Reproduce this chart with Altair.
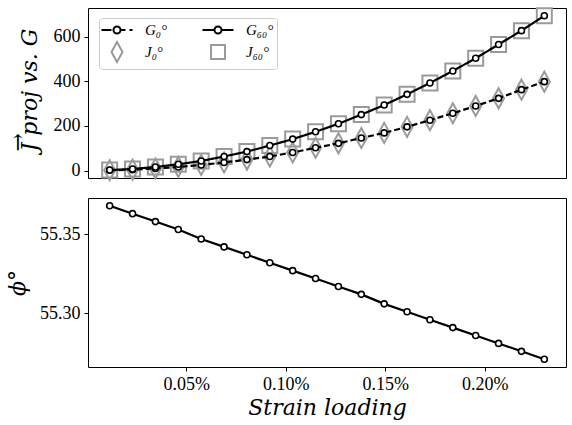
import altair as alt
import pandas as pd

# ---- data ----
strain = [0.0115, 0.023, 0.0345, 0.046, 0.0575, 0.069, 0.0805, 0.092, 0.1035, 0.115,
          0.1265, 0.138, 0.1495, 0.161, 0.1725, 0.184, 0.1955, 0.207, 0.2185, 0.23]
g0 = [1, 4, 9, 16, 25, 36, 49, 63, 81, 102, 122, 146, 169, 196, 226, 257, 290, 324, 363, 399]
g60 = [2, 7, 16, 28, 43, 63, 85, 112, 141, 174, 210, 251, 294, 342, 393, 447, 504, 566, 628, 695]
j0 = [1, 4, 9, 16, 25, 36, 49, 63, 81, 102, 122, 146, 169, 196, 226, 257, 290, 324, 363, 399]
j60 = [2, 7, 16, 28, 43, 63, 85, 112, 141, 174, 210, 251, 294, 342, 393, 447, 504, 566, 628, 695]
phi = [55.368, 55.363, 55.358, 55.353, 55.347, 55.342, 55.337, 55.332, 55.327, 55.322,
       55.317, 55.312, 55.306, 55.301, 55.296, 55.291, 55.286, 55.281, 55.276, 55.271]

names = ["G\u2080\u00b0", "G\u2086\u2080\u00b0", "J\u2080\u00b0", "J\u2086\u2080\u00b0"]
x_ticks = [0.05, 0.10, 0.15, 0.20]
top_ticks = [0, 200, 400, 600]
bottom_ticks = [55.30, 55.35]

FONT = "Liberation Serif"
TFONT = "DejaVu Serif"
GRAY = "#9a9a9a"
TOP_H = 170

g_df = pd.DataFrame({"strain": strain + strain, "value": g0 + g60,
                     "series": [names[0]] * len(strain) + [names[1]] * len(strain)})
j0_df = pd.DataFrame({"strain": strain, "value": j0})
j60_df = pd.DataFrame({"strain": strain, "value": j60})
phi_df = pd.DataFrame({"strain": strain, "phi": phi})
leg_df = pd.DataFrame({"series": names, "strain": [0.1] * 4, "value": [0] * 4})

xs = alt.Scale(domain=[0.0006, 0.2409], nice=False, zero=False)
ys_top = alt.Scale(domain=[-33.6, 729.7], nice=False, zero=False)
ys_bot = alt.Scale(domain=[55.2661, 55.3729], nice=False, zero=False)

X_top = alt.X("strain:Q", scale=xs, axis=None)
Y_top = alt.Y("value:Q", scale=ys_top,
              axis=alt.Axis(values=top_ticks, title=["\u2192", "J proj vs. G"], titlePadding=12,
                            titleAlign="left", titleY=TOP_H / 2 + 58, titleLineHeight=12))

# legend symbols (custom paths)
leg_paths = [
    "M-1.94,0L-0.69,0M0.56,0L1.06,0M1.56,0L1.94,0M0.44,0A0.44,0.44,0,1,1,-0.44,0A0.44,0.44,0,1,1,0.44,0",
    "M-1.94,0L-0.44,0M0.44,0L1.94,0M0.44,0A0.44,0.44,0,1,1,-0.44,0A0.44,0.44,0,1,1,0.44,0",
    "M0,-1.25L0.69,0L0,1.25L-0.69,0Z",
    "M-0.875,-0.875L0.875,-0.875L0.875,0.875L-0.875,0.875Z",
]
leg = alt.Legend(title=None, orient="none", legendX=11, legendY=10, columns=2, direction="horizontal",
                 padding=3, symbolSize=256, symbolStrokeWidth=2, labelFont=FONT,
                 labelFontStyle="italic", labelFontSize=15, labelOffset=19, columnPadding=30,
                 rowPadding=0, fillColor="white", strokeColor="#cccccc", cornerRadius=3,
                 symbolOffset=6, symbolOpacity=1)

legend_layer = alt.Chart(leg_df).mark_point(filled=False, strokeWidth=2, opacity=1).encode(
    x=X_top, y=Y_top,
    shape=alt.Shape("series:N", scale=alt.Scale(domain=names, range=leg_paths), legend=leg),
    stroke=alt.Stroke("series:N", scale=alt.Scale(domain=names, range=["black", "black", GRAY, GRAY]), legend=leg),
).transform_filter("false")

j0_layer = alt.Chart(j0_df).mark_point(shape="M0,-1L0.55,0L0,1L-0.55,0Z", size=400, filled=False,
                                        stroke=GRAY, strokeWidth=2, opacity=1).encode(x=X_top, y=Y_top)
j60_layer = alt.Chart(j60_df).mark_point(shape="square", size=225, filled=False,
                                          stroke=GRAY, strokeWidth=2, opacity=1).encode(x=X_top, y=Y_top)
g_line = alt.Chart(g_df).mark_line(color="black", strokeWidth=2.2).encode(
    x=X_top, y=Y_top,
    strokeDash=alt.StrokeDash("series:N", scale=alt.Scale(domain=names[:2], range=[[6, 3], [1, 0]]), legend=None),
)
g_pts = alt.Chart(g_df).mark_point(shape="circle", size=36, filled=True, fill="white",
                                   stroke="black", strokeWidth=1.6, opacity=1).encode(x=X_top, y=Y_top)

top = alt.layer(j0_layer, j60_layer, g_line, g_pts, legend_layer).properties(width=478, height=TOP_H)

X_bot = alt.X("strain:Q", scale=xs,
              axis=alt.Axis(values=x_ticks, labelExpr="format(datum.value, '.2f') + '%'",
                            title="Strain loading", titlePadding=4))
Y_bot = alt.Y("phi:Q", scale=ys_bot,
              axis=alt.Axis(values=bottom_ticks, format=".2f", title="\u03d5\u00b0", titlePadding=10))

b_line = alt.Chart(phi_df).mark_line(color="black", strokeWidth=2.2).encode(x=X_bot, y=Y_bot)
b_pts = alt.Chart(phi_df).mark_point(shape="circle", size=36, filled=True, fill="white",
                                     stroke="black", strokeWidth=1.6, opacity=1).encode(x=X_bot, y=Y_bot)
bottom = alt.layer(b_line, b_pts).properties(width=478, height=169)

chart = alt.vconcat(top, bottom, spacing=20, bounds="flush").properties(
    padding={"left": 5, "top": 3, "right": 2, "bottom": 2},
    background="white",
).configure_view(stroke="black", strokeWidth=1).configure_axis(
    labelFont=FONT, labelFontSize=18, labelColor="black", titleFont=TFONT, titleFontSize=22,
    titleFontStyle="italic", titleFontWeight="normal", titleColor="black", tickColor="black",
    tickSize=4, tickWidth=1, labelPadding=4, domain=False, grid=False,
)

chart.save("out.html", embed_options={"renderer": "svg", "actions": False})
